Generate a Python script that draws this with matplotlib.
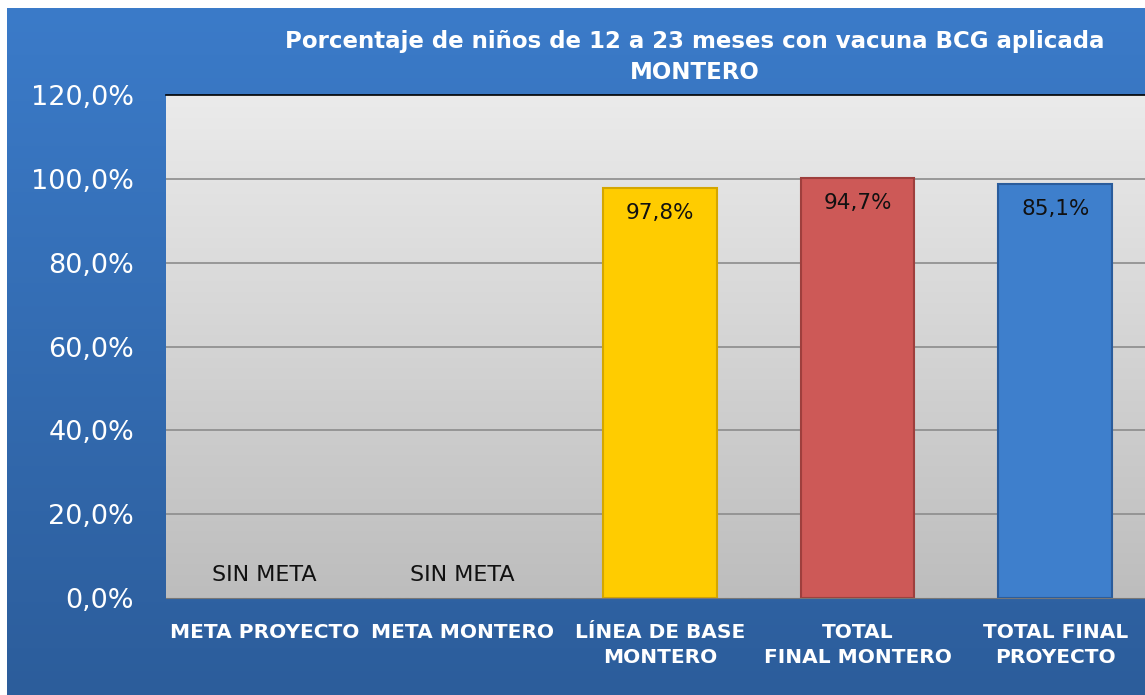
import numpy as np
import matplotlib
matplotlib.use("Agg")
import matplotlib.pyplot as plt
from matplotlib.colors import LinearSegmentedColormap

categories = ["META PROYECTO", "META MONTERO", "LÍNEA DE BASE\nMONTERO",
              "TOTAL\nFINAL MONTERO", "TOTAL FINAL\nPROYECTO"]
bar_values = [0, 0, 97.8, 100.2, 98.8]
bar_labels = ["SIN META", "SIN META", "97,8%", "94,7%", "85,1%"]
bar_colors = [None, None, "#FFCC00", "#CD5957", "#3E7FCC"]
edge_colors = [None, None, "#D4A600", "#9E3F3D", "#2A5C9C"]
yticks = [0, 20, 40, 60, 80, 100, 120]
title = "Porcentaje de niños de 12 a 23 meses con vacuna BCG aplicada\nMONTERO"

W, H = 1145, 695
fig = plt.figure(figsize=(W / 100, H / 100), dpi=100)
fig.patch.set_facecolor("white")

# background blue gradient
bg = fig.add_axes([7 / W, 0, 1 - 7 / W, 1 - 8 / H])
bg.set_axis_off()
cm_bg = LinearSegmentedColormap.from_list("bg", ["#3B7BC9", "#2C5D9B"])
grad = np.linspace(0, 1, 256).reshape(-1, 1)
bg.imshow(grad, aspect="auto", cmap=cm_bg, extent=[0, 1, 0, 1], origin="upper")
bg.set_xlim(0, 1)
bg.set_ylim(0, 1)

# plot area
left, right, top, bottom = 166, 1154, 95, 598
ax = fig.add_axes([left / W, 1 - bottom / H, (right - left) / W, (bottom - top) / H])
cm_pa = LinearSegmentedColormap.from_list("pa", ["#EBEBEB", "#BDBDBD"])
ax.imshow(grad, aspect="auto", cmap=cm_pa, extent=[-0.5, 4.5, 0, 120],
          origin="upper", zorder=0)
ax.set_xlim(-0.5, 4.5)
ax.set_ylim(0, 120)
for y in yticks[1:-1]:
    ax.axhline(y, color="#8C8C8C", lw=1.2, zorder=1)

x = np.arange(len(categories))
for i in range(len(categories)):
    if bar_values[i] > 0:
        ax.bar(x[i], bar_values[i], width=0.575, color=bar_colors[i],
               edgecolor=edge_colors[i], linewidth=1.5, zorder=2)
        ax.text(x[i], bar_values[i] - 6, bar_labels[i], ha="center", va="center",
                fontsize=15.5, color="#111111", zorder=3)
    else:
        ax.text(x[i], 5.5, bar_labels[i], ha="center", va="center",
                fontsize=16, color="#111111", zorder=3)

ax.set_yticks(yticks)
ax.set_yticklabels([f"{v:.1f}%".replace(".", ",") for v in yticks],
                   fontsize=19.5, color="white")
ax.set_xticks(x)
ax.set_xticklabels(categories, fontsize=14.5, color="white", fontweight="bold",
                   linespacing=1.4)
ax.tick_params(axis="both", length=0)
ax.tick_params(axis="y", pad=23)
ax.tick_params(axis="x", pad=18)
for s in ["left", "right"]:
    ax.spines[s].set_visible(False)
ax.spines["bottom"].set_color("#777777")
ax.spines["top"].set_color("black")
ax.spines["top"].set_linewidth(1.2)

fig.text(695 / W, 1 - 57 / H, title, ha="center", va="center", fontsize=16.5,
         fontweight="bold", color="white", linespacing=1.4)

fig.savefig("out.png", dpi=100)
